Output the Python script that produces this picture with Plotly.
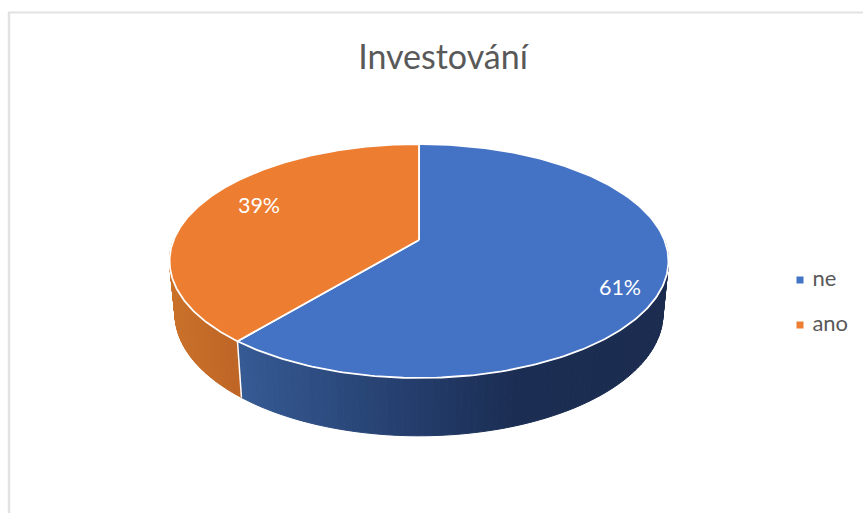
import math
import plotly.graph_objects as go

categories = ["ne", "ano"]
values = [61, 39]
labels = ["61%", "39%"]
title_text = "Investování"
top_colors = ["#4472C4", "#ED7D31"]
wall_stops = [
    [(0.0, (54, 90, 148)), (0.43, (35, 60, 106)), (0.66, (27, 45, 82)), (1.0, (27, 44, 80))],
    [(0.0, (201, 112, 42)), (1.0, (190, 101, 38))],
]
label_xy = [(620, 290), (259, 208)]
legend_xy = [(800, 280), (800, 325)]

CX, TOP_Y0, TOP_A, TOP_B, K = 419, 240, 245.4, 113.2, 0.1795
BOT_Y0, BOT_A, BOT_B = 292, 240, 118


def rim(theta, y0, a, b):
    u, v = math.sin(theta), math.cos(theta)
    w = 1 + K * v
    return CX + a * u / w, y0 - b * v / w


def lerp(stops, t):
    for (t0, c0), (t1, c1) in zip(stops, stops[1:]):
        if t <= t1:
            f = (t - t0) / (t1 - t0)
            return "rgb(%d,%d,%d)" % tuple(round(p + (q - p) * f) for p, q in zip(c0, c1))
    return "rgb(%d,%d,%d)" % stops[-1][1]


total = sum(values)
edges = [0.0]
for val in values:
    edges.append(edges[-1] + val / total * 2 * math.pi)

fig = go.Figure()

# chart frame
fig.add_shape(type="line", x0=9, x1=9, y0=12, y1=513, line=dict(color="#E2E2E2", width=2.5))
fig.add_shape(type="line", x0=8, x1=863, y0=12.5, y1=12.5, line=dict(color="#E2E2E2", width=2))

# side walls (front half only), split into slim strips for the shading
for i in range(len(values)):
    start = max(edges[i], math.pi / 2 - 0.02)
    end = min(edges[i + 1], 3 * math.pi / 2 + 0.02)
    n = 90
    xa = min(rim(start, BOT_Y0, BOT_A, BOT_B)[0], rim(end, BOT_Y0, BOT_A, BOT_B)[0])
    xb = max(rim(start, BOT_Y0, BOT_A, BOT_B)[0], rim(end, BOT_Y0, BOT_A, BOT_B)[0])
    for j in range(n):
        t0 = start + (end - start) * j / n
        t1 = start + (end - start) * (j + 1) / n
        p0, p1 = rim(t0, TOP_Y0, TOP_A, TOP_B), rim(t1, TOP_Y0, TOP_A, TOP_B)
        q0, q1 = rim(t0, BOT_Y0, BOT_A, BOT_B), rim(t1, BOT_Y0, BOT_A, BOT_B)
        frac = ((q0[0] + q1[0]) / 2 - xa) / (xb - xa)
        col = lerp(wall_stops[i], frac)
        fig.add_trace(go.Scatter(
            x=[p0[0], p1[0], q1[0], q0[0], p0[0]], y=[p0[1], p1[1], q1[1], q0[1], p0[1]],
            mode="lines", fill="toself", fillcolor=col, line=dict(color=col, width=1),
            hoverinfo="skip", showlegend=False))

# white edge between the two walls
b_theta = edges[1]
p, q = rim(b_theta, TOP_Y0, TOP_A, TOP_B), rim(b_theta, BOT_Y0, BOT_A, BOT_B)
fig.add_trace(go.Scatter(x=[p[0], q[0]], y=[p[1], q[1]], mode="lines",
                         line=dict(color="white", width=1.5), hoverinfo="skip", showlegend=False))

# top faces
for i in range(len(values)):
    pts = [rim(edges[i] + (edges[i + 1] - edges[i]) * j / 240, TOP_Y0, TOP_A, TOP_B) for j in range(241)]
    xs = [CX] + [pt[0] for pt in pts] + [CX]
    ys = [TOP_Y0] + [pt[1] for pt in pts] + [TOP_Y0]
    fig.add_trace(go.Scatter(x=xs, y=ys, mode="lines", fill="toself", fillcolor=top_colors[i],
                             line=dict(color="white", width=1.8), name=categories[i],
                             hoverinfo="name", showlegend=False))

# data labels
fig.add_trace(go.Scatter(x=[xy[0] for xy in label_xy], y=[xy[1] for xy in label_xy], mode="text",
                         text=labels, textposition="middle center",
                         textfont=dict(family="Lato", size=21.5, color="white"),
                         hoverinfo="skip", showlegend=False))

# legend entries
for i, cat in enumerate(categories):
    fig.add_trace(go.Scatter(x=[legend_xy[i][0]], y=[legend_xy[i][1]], mode="markers+text", name=cat,
                             text=["\u00a0\u200a" + cat], textposition="middle right",
                             textfont=dict(family="Lato", size=22, color="#595959"),
                             marker=dict(symbol="square", size=7, color=top_colors[i]),
                             showlegend=False))

fig.update_layout(
    width=863, height=513, margin=dict(l=0, r=0, t=0, b=0),
    paper_bgcolor="white", plot_bgcolor="white",
    xaxis=dict(range=[0, 863], visible=False, fixedrange=True),
    yaxis=dict(range=[513, 0], visible=False, fixedrange=True),
    title=dict(text=title_text, x=443 / 863, xanchor="center", y=1 - 57 / 513, yanchor="middle",
               font=dict(family="Lato", size=34, color="#595959")),
)
fig.write_html("out.html", config={"displayModeBar": False},
               post_script="document.body.style.margin='0';document.documentElement.style.overflow='hidden';")
